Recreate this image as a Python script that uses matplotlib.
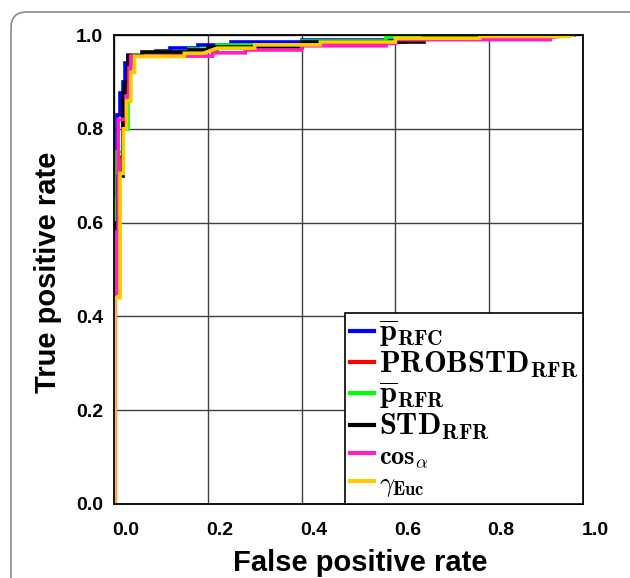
import numpy as np
import matplotlib
matplotlib.use('Agg')
import matplotlib.pyplot as plt
from matplotlib.patches import FancyBboxPatch
from matplotlib.transforms import ScaledTranslation

plt.rcParams['font.family'] = ['Liberation Sans', 'DejaVu Sans']
plt.rcParams['mathtext.fontset'] = 'cm'

# ROC curve vertices (false positive rate, true positive rate)
fpr_rfc = [0.002, 0.002, 0.006, 0.006, 0.013, 0.013, 0.019, 0.019, 0.024, 0.024, 0.03, 0.03,
           0.09, 0.09, 0.12, 0.12, 0.18, 0.18, 0.25, 0.25, 0.40, 0.40, 0.62, 0.62, 0.80, 0.80, 0.98]
tpr_rfc = [0.0, 0.75, 0.75, 0.83, 0.83, 0.876, 0.876, 0.90, 0.90, 0.94, 0.94, 0.958,
           0.958, 0.965, 0.965, 0.972, 0.972, 0.979, 0.979, 0.986, 0.986, 0.99, 0.99, 0.995, 0.995, 1.0, 1.0]

fpr_probstd = [0.003, 0.003, 0.01, 0.01, 0.02, 0.02, 0.03, 0.03, 0.035, 0.035,
               0.10, 0.10, 0.16, 0.16, 0.22, 0.22, 0.40, 0.40, 0.62, 0.62, 0.80, 0.80, 0.98]
tpr_probstd = [0.0, 0.62, 0.62, 0.74, 0.74, 0.86, 0.86, 0.92, 0.92, 0.957,
               0.957, 0.962, 0.962, 0.968, 0.968, 0.976, 0.976, 0.986, 0.986, 0.993, 0.993, 1.0, 1.0]

fpr_rfr = [0.003, 0.003, 0.007, 0.007, 0.02, 0.02, 0.03, 0.03, 0.034, 0.034, 0.04, 0.04,
           0.10, 0.10, 0.16, 0.16, 0.22, 0.22, 0.40, 0.40, 0.58, 0.58, 0.82, 0.82, 0.98]
tpr_rfr = [0.0, 0.65, 0.65, 0.75, 0.75, 0.80, 0.80, 0.86, 0.86, 0.94, 0.94, 0.958,
           0.958, 0.963, 0.963, 0.97, 0.97, 0.978, 0.978, 0.988, 0.988, 0.995, 0.995, 1.0, 1.0]

fpr_std = [0.003, 0.003, 0.009, 0.009, 0.019, 0.019, 0.024, 0.024, 0.03, 0.03,
           0.06, 0.06, 0.16, 0.16, 0.20, 0.20, 0.40, 0.40, 0.66, 0.66, 0.78, 0.78, 0.98]
tpr_std = [0.0, 0.60, 0.60, 0.70, 0.70, 0.876, 0.876, 0.90, 0.90, 0.955,
           0.955, 0.964, 0.964, 0.968, 0.968, 0.975, 0.975, 0.986, 0.986, 0.993, 0.993, 1.0, 1.0]

fpr_cos = [0.003, 0.003, 0.006, 0.006, 0.009, 0.009, 0.026, 0.026, 0.032, 0.032, 0.036, 0.036,
           0.21, 0.21, 0.28, 0.28, 0.40, 0.40, 0.58, 0.58, 0.60, 0.60, 0.93, 0.93, 0.98]
tpr_cos = [0.0, 0.45, 0.45, 0.58, 0.58, 0.82, 0.82, 0.87, 0.87, 0.93, 0.93, 0.955,
           0.955, 0.962, 0.962, 0.968, 0.968, 0.977, 0.977, 0.982, 0.982, 0.99, 0.99, 0.995, 1.0]

fpr_euc = [0.002, 0.002, 0.013, 0.013, 0.02, 0.02, 0.027, 0.027, 0.036, 0.036, 0.044, 0.044,
           0.15, 0.15, 0.19, 0.22, 0.30, 0.30, 0.44, 0.44, 0.60, 0.60, 0.78, 0.78, 0.97, 0.97, 0.98]
tpr_euc = [0.0, 0.44, 0.44, 0.705, 0.705, 0.80, 0.80, 0.86, 0.86, 0.92, 0.92, 0.954,
           0.954, 0.961, 0.961, 0.972, 0.972, 0.979, 0.979, 0.985, 0.985, 0.993, 0.993, 0.997, 0.997, 1.0, 1.0]

labels = [r'$\overline{\mathbf{p}}_{\mathbf{RFC}}$',
          r'$\mathbf{PROBSTD}_{\mathbf{RFR}}$',
          r'$\overline{\mathbf{p}}_{\mathbf{RFR}}$',
          r'$\mathbf{STD}_{\mathbf{RFR}}$',
          r'$\mathbf{cos}_{\alpha}$',
          r'$\gamma_{\mathbf{Euc}}$']
colors = ['#0000ff', '#ff0000', '#00ff00', '#000000', '#ff1fc0', '#ffcc00']
curves = [(fpr_rfc, tpr_rfc), (fpr_probstd, tpr_probstd), (fpr_rfr, tpr_rfr),
          (fpr_std, tpr_std), (fpr_cos, tpr_cos), (fpr_euc, tpr_euc)]

fig = plt.figure(figsize=(6.30, 5.78), dpi=100)

# rounded journal frame
frame = FancyBboxPatch((11/630, -0.2), 1.2, 1.2 - 12/578,
                       boxstyle='round,pad=0,rounding_size=0.025', mutation_aspect=630/578,
                       transform=fig.transFigure, fill=False, edgecolor='#8a8a8a', linewidth=1.2)
fig.patches.append(frame)

ax = fig.add_axes([114/630, 1 - 504/578, 469/630, 469/578])

for (fx, ty), c, lab in zip(curves, colors, labels):
    ax.plot(fx, ty, color=c, linewidth=2.6, label=lab, solid_joinstyle='miter')

ax.set_xlim(0, 1)
ax.set_ylim(0, 1)
ax.set_xticks([0, 0.2, 0.4, 0.6, 0.8, 1.0])
ax.set_yticks([0, 0.2, 0.4, 0.6, 0.8, 1.0])
ax.set_xticklabels(['0.0', '0.2', '0.4', '0.6', '0.8', '1.0'])
ax.set_yticklabels(['0.0', '0.2', '0.4', '0.6', '0.8', '1.0'])
ax.tick_params(length=0, labelsize=14)
ax.tick_params(axis='y', pad=8)
ax.tick_params(axis='x', pad=13)
for t in ax.get_xticklabels() + ax.get_yticklabels():
    t.set_fontweight('bold')
for t in ax.get_xticklabels():
    t.set_transform(t.get_transform() + ScaledTranslation(0.12, 0, fig.dpi_scale_trans))
ax.grid(True, color='#404040', linewidth=1.0)
ax.set_axisbelow(True)
for s in ax.spines.values():
    s.set_linewidth(1.3)

leg = ax.legend(loc='lower right', borderaxespad=0, fancybox=False, framealpha=1,
                edgecolor='black', handlelength=0.8, handletextpad=0.15, labelspacing=0.0,
                borderpad=0.15, fontsize=22)
leg.get_frame().set_linewidth(1.2)
for line in leg.get_lines():
    line.set_linewidth(3)
texts = leg.get_texts()
texts[4].set_fontsize(19)
texts[5].set_fontsize(19)

fig.text(48/630, 1 - 272/578, 'True positive rate', rotation=90, ha='center', va='center',
         fontsize=21, fontweight='bold')
fig.text(360/630, 1 - 563/578, 'False positive rate', ha='center', va='center',
         fontsize=21, fontweight='bold')

fig.savefig('out.png', dpi=100)
